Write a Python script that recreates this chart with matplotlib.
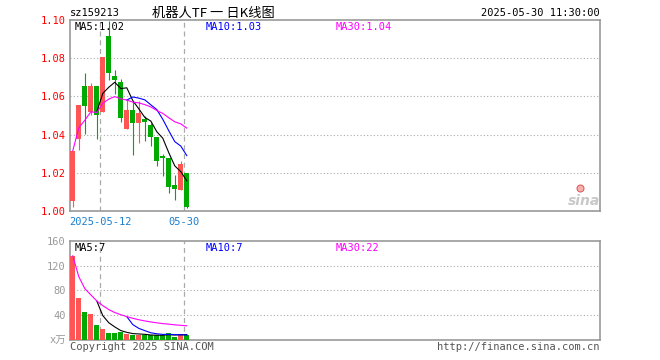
import matplotlib
matplotlib.use("Agg")
import matplotlib.pyplot as plt
from matplotlib.transforms import blended_transform_factory

# daily candles, 2025-04-30 .. 2025-05-30
dates = ["04-30", "05-06", "05-07", "05-08", "05-09", "05-12", "05-13", "05-14", "05-15", "05-16",
         "05-19", "05-20", "05-21", "05-22", "05-23", "05-26", "05-27", "05-28", "05-29", "05-30"]
opens = [1.0050, 1.0375, 1.0652, 1.0520, 1.0652, 1.0520, 1.0918, 1.0705, 1.0675, 1.0430,
         1.0530, 1.0462, 1.0482, 1.0452, 1.0390, 1.0289, 1.0278, 1.0137, 1.0112, 1.0198]
closes = [1.0316, 1.0556, 1.0552, 1.0652, 1.0505, 1.0807, 1.0725, 1.0686, 1.0488, 1.0530,
          1.0463, 1.0515, 1.0464, 1.0390, 1.0260, 1.0280, 1.0128, 1.0115, 1.0248, 1.0020]
highs = [1.0316, 1.0556, 1.0725, 1.0670, 1.0652, 1.0807, 1.0996, 1.0740, 1.0690, 1.0580,
         1.0575, 1.0575, 1.0498, 1.0462, 1.0390, 1.0297, 1.0278, 1.0190, 1.0260, 1.0198]
lows = [1.0023, 1.0320, 1.0405, 1.0503, 1.0375, 1.0520, 1.0684, 1.0615, 1.0468, 1.0428,
        1.0295, 1.0358, 1.0368, 1.0338, 1.0237, 1.0183, 1.0093, 1.0058, 1.0112, 1.0017]
volumes = [136, 68, 44, 42, 23, 17, 10, 10, 12.5, 8.5, 7, 7, 7, 7, 7, 7, 11, 4.5, 9.5, 7]

# moving averages (MA5 from day 5, MA10 from day 10)
ma5 = [1.0519, 1.0616, 1.0648, 1.0674, 1.0641, 1.0645, 1.0578, 1.0535, 1.0490, 1.0471,
       1.0415, 1.0381, 1.0305, 1.0236, 1.0206, 1.0158]
ma10 = [1.0581, 1.0597, 1.0591, 1.0582, 1.0556, 1.0531, 1.0480, 1.0420, 1.0363, 1.0340, 1.0290]
ma30 = [1.0316, 1.0436, 1.0475, 1.0519, 1.0516, 1.0564, 1.0586, 1.0599, 1.0587, 1.0581,
        1.0570, 1.0566, 1.0557, 1.0545, 1.0526, 1.0511, 1.0488, 1.0467, 1.0456, 1.0434]
vma5 = [62.6, 38.8, 27.2, 20.4, 14.5, 11.6, 9.6, 9.0, 8.4, 7.3, 7.0, 7.0, 7.8, 7.3, 7.8, 7.8]
vma10 = [37.1, 24.2, 18.1, 14.4, 10.9, 9.3, 8.3, 8.4, 7.85, 7.55, 7.4]
vma30 = [136, 102, 82.7, 72.5, 62.6, 55, 48.6, 43.75, 40.3, 37.1,
         34.4, 32.1, 30.2, 28.5, 27.1, 25.8, 24.9, 23.8, 23.05, 22.25]

price_ticks = [1.00, 1.02, 1.04, 1.06, 1.08, 1.10]
vol_ticks = [0, 40, 80, 120, 160]
vol_labels = ["x万", "40", "80", "120", "160"]
date_marks = [5, 19]
date_texts = ["2025-05-12", "05-30"]

RED = "#ff5555"
GREEN = "#00aa00"
MONO = "DejaVu Sans Mono"
plt.rcParams['font.family'] = [MONO, 'Noto Sans CJK SC']

fig = plt.figure(figsize=(6.6, 3.6), dpi=100)
ax = fig.add_axes([70 / 660, 149 / 360, 530 / 660, 191 / 360])
axv = fig.add_axes([70 / 660, 20.5 / 360, 530 / 660, 98.5 / 360])

n = len(closes)
xs = list(range(n))
cols = [RED if c >= o else GREEN for o, c in zip(opens, closes)]
xlim = (-2.8 / 6, 527.2 / 6)

# candles
ax.vlines(xs, lows, highs, colors=cols, linewidth=0.8, zorder=3)
bottoms = [min(o, c) for o, c in zip(opens, closes)]
heights = [max(abs(c - o), 0.0005) for o, c in zip(opens, closes)]
ax.bar(xs, heights, bottom=bottoms, width=0.8, color=cols, linewidth=0, zorder=3)
ax.plot(xs[4:], ma5, color="black", lw=0.8, zorder=4)
ax.plot(xs[9:], ma10, color="#0000ff", lw=0.8, zorder=4)
ax.plot(xs, ma30, color="#ff00ff", lw=0.8, zorder=4)

# volume
axv.bar(xs, volumes, width=0.8, color=cols, linewidth=0, zorder=3)
axv.plot(xs[4:], vma5, color="black", lw=0.8, zorder=4)
axv.plot(xs[9:], vma10, color="#0000ff", lw=0.8, zorder=4)
axv.plot(xs, vma30, color="#ff00ff", lw=0.8, zorder=4)

for a, ticks, lim in [(ax, price_ticks, (1.0, 1.1)), (axv, vol_ticks, (0, 160))]:
    a.set_xlim(*xlim)
    a.set_ylim(*lim)
    a.set_xticks([])
    for t in ticks[1:-1]:
        a.axhline(t, color="#aaaaaa", lw=0.8, ls=(0, (1, 2)), zorder=1)
    for d in date_marks:
        a.axvline(d - 0.42, color="#aaaaaa", lw=0.9, ls=(0, (4, 3)), zorder=2)
    for s in a.spines.values():
        s.set_color("#999999")
        s.set_linewidth(1.2)

ax.set_yticks(price_ticks)
ax.set_yticklabels(["%.2f" % t for t in price_ticks], color="red", fontsize=7.5)
ax.tick_params(axis="y", length=0, pad=3)
axv.set_yticks(vol_ticks)
axv.set_yticklabels(vol_labels, color="#999999", fontsize=7.5)
axv.tick_params(axis="y", length=0, pad=3)

# date labels under price panel
tr = blended_transform_factory(ax.transData, ax.transAxes)
for d, t in zip(date_marks, date_texts):
    ax.text(d - 0.42, -0.055, t, transform=tr, ha="center", va="center",
            color="#1a7fd0", fontsize=7.5)

# MA labels
ax.text(0.0094, 0.962, "MA5:1.02", transform=ax.transAxes, color="black", fontsize=7.5, va="center")
ax.text(0.2566, 0.962, "MA10:1.03", transform=ax.transAxes, color="#0000ff", fontsize=7.5, va="center")
ax.text(0.502, 0.962, "MA30:1.04", transform=ax.transAxes, color="#ff00ff", fontsize=7.5, va="center")
axv.text(0.0094, 0.93, "MA5:7", transform=axv.transAxes, color="black", fontsize=7.5, va="center")
axv.text(0.2566, 0.93, "MA10:7", transform=axv.transAxes, color="#0000ff", fontsize=7.5, va="center")
axv.text(0.502, 0.93, "MA30:22", transform=axv.transAxes, color="#ff00ff", fontsize=7.5, va="center")

# sina watermark
ax.text(0.97, 0.05, "sina", transform=ax.transAxes, ha="center", va="center",
        color="#c8c8c8", fontsize=10, style="italic", fontweight="bold", family="DejaVu Sans")
ax.plot([0.962], [0.12], marker="o", ms=5, mfc="#f6b0b0", mec="#e06060", mew=0.8,
        transform=ax.transAxes, zorder=5)

# header / footer
fig.text(70 / 660, 1 - 13 / 360, "sz159213", fontsize=7.5, va="center", ha="left")
fig.text(152 / 660, 1 - 13 / 360, "机器人TF 一 日K线图", fontsize=9.5, va="center", ha="left",
         family=["Noto Sans CJK SC", "DejaVu Sans"])
fig.text(600 / 660, 1 - 13 / 360, "2025-05-30 11:30:00", fontsize=7.5, va="center", ha="right")
fig.text(70 / 660, 1 - 347 / 360, "Copyright 2025 SINA.COM", fontsize=7.5, va="center",
         ha="left", color="#555555")
fig.text(600 / 660, 1 - 347 / 360, "http://finance.sina.com.cn", fontsize=7.5, va="center",
         ha="right", color="#555555")

fig.savefig("out.png", dpi=100)
